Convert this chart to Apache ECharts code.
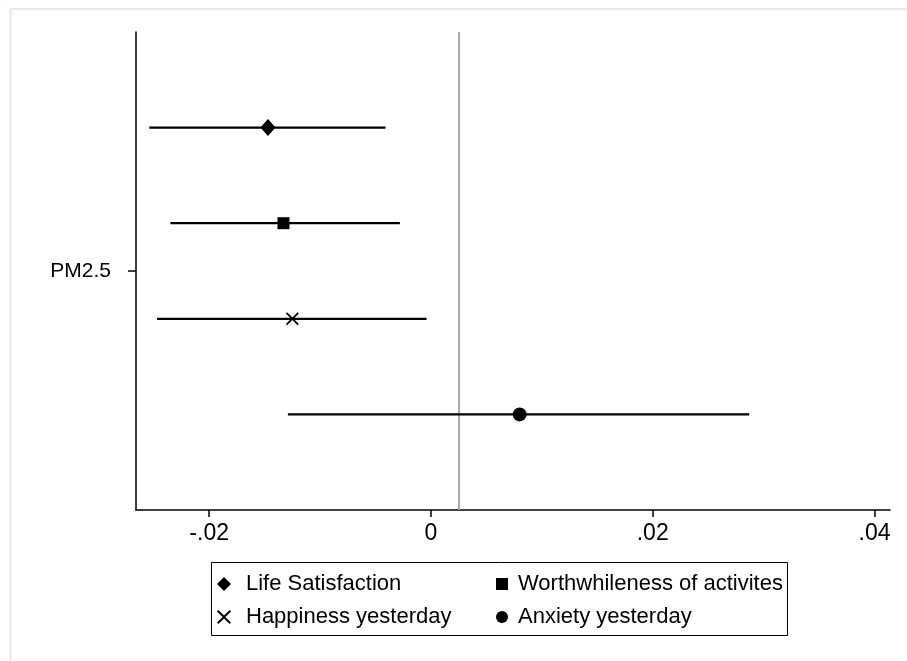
<!DOCTYPE html>
<html>
<head>
<meta charset="utf-8">
<script src="https://cdn.jsdelivr.net/npm/echarts@6/dist/echarts.min.js"></script>
<style>html,body{margin:0;padding:0;background:#fff}#c{width:907px;height:661px}</style>
</head>
<body>
<div id="c"></div>
<script>
const seriesNames = ['Life Satisfaction', 'Worthwhileness of activites', 'Happiness yesterday', 'Anxiety yesterday'];
const estimates = [-0.0147, -0.0133, -0.0125, 0.0080];
const lowerCI = [-0.0254, -0.0235, -0.0247, -0.0129];
const upperCI = [-0.0041, -0.0028, -0.0004, 0.0287];
const xTicks = [-0.02, 0, 0.02, 0.04];
const yCategory = 'PM2.5';
const refLine = 0.00253;

const xPath = 'path://M0,1 L1,0 L5,4 L9,0 L10,1 L6,5 L10,9 L9,10 L5,6 L1,10 L0,9 L4,5 Z';
const symbols = ['diamond', 'rect', xPath, 'circle'];
const symSizes = [[15, 17], 12, 13, 14];
const FONT = '"Liberation Sans", Arial, sans-serif';

const rowY = i => 0.8 - 0.2 * i;

const series = [];
// reference line
series.push({
  type: 'custom',
  name: 'ref',
  silent: true,
  z: 1,
  data: [[refLine, 0, 1]],
  encode: { x: 0, y: [1, 2] },
  renderItem: (params, api) => {
    const a = api.coord([api.value(0), api.value(1)]);
    const b = api.coord([api.value(0), api.value(2)]);
    return { type: 'line', shape: { x1: a[0], y1: a[1], x2: b[0], y2: b[1] },
      style: { stroke: '#a8a8a8', lineWidth: 2 } };
  }
});
seriesNames.forEach((name, i) => {
  series.push({
    type: 'custom',
    name: name + '_ci',
    silent: true,
    z: 2,
    data: [[lowerCI[i], upperCI[i], rowY(i)]],
    encode: { x: [0, 1], y: 2 },
    renderItem: (params, api) => {
      const a = api.coord([api.value(0), api.value(2)]);
      const b = api.coord([api.value(1), api.value(2)]);
      return { type: 'line', shape: { x1: a[0], y1: a[1], x2: b[0], y2: b[1] },
        style: { stroke: '#000', lineWidth: 2.2 } };
    }
  });
  series.push({
    type: 'scatter',
    name: name,
    z: 3,
    symbol: symbols[i],
    symbolSize: symSizes[i],
    itemStyle: { color: '#000', opacity: 1 },
    data: [[estimates[i], rowY(i)]]
  });
});

const fmtX = v => {
  if (Math.abs(v) < 1e-12) return '0';
  const s = String(Math.abs(+v.toFixed(4))).replace(/^0/, '');
  return (v < 0 ? '-' : '') + s;
};

const mkLegend = (idxs, left, size, gap) => ({
  orient: 'vertical',
  left: left, top: 573,
  padding: 0,
  itemGap: 11,
  itemWidth: size, itemHeight: size,
  selectedMode: false,
  formatter: n => '{g|}{t|' + n + '}',
  textStyle: {
    fontFamily: FONT, fontSize: 22, color: '#000', lineHeight: 22,
    rich: {
      g: { width: gap, height: 22 },
      t: { fontFamily: FONT, fontSize: 22, color: '#000', lineHeight: 22 }
    }
  },
  data: idxs.map(i => ({ name: seriesNames[i], icon: symbols[i] }))
});

const chart = echarts.init(document.getElementById('c'), null, { renderer: 'canvas' });
chart.setOption({
  animation: false,
  backgroundColor: '#fff',
  grid: { left: 136, right: 17, top: 32, bottom: 151, containLabel: false },
  xAxis: {
    type: 'value', min: -0.0266, max: 0.0414,
    axisLine: { show: true, onZero: false, lineStyle: { color: '#000', width: 1.5 } },
    axisTick: { show: true, length: 7, customValues: xTicks, lineStyle: { color: '#000', width: 1.5 } },
    axisLabel: { customValues: xTicks, formatter: fmtX, margin: 12, fontFamily: FONT, fontSize: 23, color: '#000' },
    splitLine: { show: false }
  },
  yAxis: {
    type: 'value', min: 0, max: 1,
    axisLine: { show: true, onZero: false, lineStyle: { color: '#000', width: 1.5 } },
    axisTick: { show: true, length: 8, customValues: [0.5], lineStyle: { color: '#000', width: 1.5 } },
    axisLabel: { customValues: [0.5], formatter: () => yCategory, margin: 25, fontFamily: FONT, fontSize: 21, color: '#000' },
    splitLine: { show: false }
  },
  legend: [mkLegend([0, 2], 217, 14, 10), mkLegend([1, 3], 496, 12, 5)],
  graphic: [
    { type: 'line', shape: { x1: 10, y1: 9, x2: 907, y2: 9 }, style: { stroke: '#e4eaee', lineWidth: 2 } },
    { type: 'line', shape: { x1: 10.5, y1: 9, x2: 10.5, y2: 661 }, style: { stroke: '#e4eaee', lineWidth: 2 } },
    { type: 'rect', shape: { x: 211.5, y: 562.5, width: 576, height: 73 }, style: { fill: 'none', stroke: '#000', lineWidth: 1 }, z: -1 }
  ],
  series: series
});
</script>
</body>
</html>
